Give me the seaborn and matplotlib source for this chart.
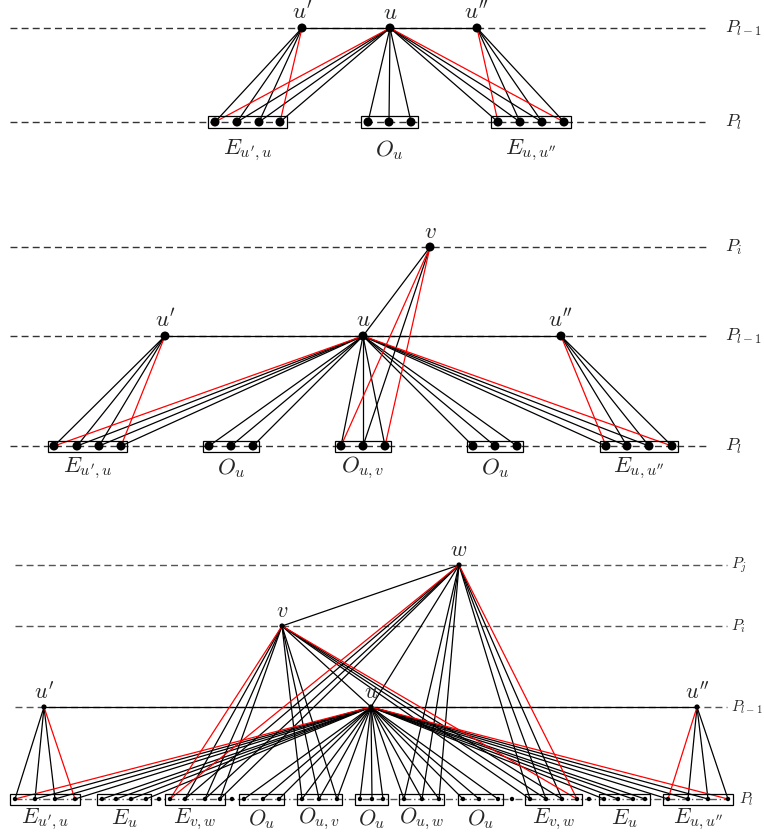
import matplotlib.pyplot as plt
import seaborn as sns
import pandas as pd

# ---- panel 1 ----
p1_levels = {"P_{l-1}": 28, "P_l": 122}
p1_nodes = {"u'": (302, "P_{l-1}"), "u": (390, "P_{l-1}"), "u''": (477, "P_{l-1}")}
p1_groups = ["E_{u',u}", "O_u", "E_{u,u''}"]
p1_dots = [[215, 237, 259, 280], [368, 389, 411], [498, 520, 542, 564]]
p1_edges = [("u'", 0, "kkkr"), ("u", 0, "rkkk"), ("u", 1, "kkk"),
            ("u", 2, "kkkr"), ("u''", 2, "rkkk")]
p1_links = [("u'", "u"), ("u", "u''")]

# ---- panel 2 ----
p2_levels = {"P_i": 247, "P_{l-1}": 336, "P_l": 446}
p2_nodes = {"v": (430, "P_i"), "u'": (165, "P_{l-1}"), "u": (363, "P_{l-1}"),
            "u''": (561, "P_{l-1}")}
p2_groups = ["E_{u',u}", "O_u", "O_{u,v}", "O_u", "E_{u,u''}"]
p2_dots = [[54, 77, 99, 121], [209, 231, 253], [341, 363, 385],
           [473, 495, 517], [606, 627, 649, 672]]
p2_edges = [("u'", 0, "kkkr"), ("u", 0, "rkkk"), ("u", 1, "kkk"),
            ("u", 2, "kkk"), ("v", 2, "rkr"), ("u", 3, "kkk"),
            ("u", 4, "kkkr"), ("u''", 4, "rkkk")]
p2_links = [("u'", "u"), ("u", "u''"), ("v", "u")]

# ---- panel 3 ----
p3_levels = {"P_j": 565, "P_i": 626, "P_{l-1}": 707, "P_l": 799}
p3_nodes = {"w": (459, "P_j"), "v": (282, "P_i"), "u'": (44, "P_{l-1}"),
            "u": (371, "P_{l-1}"), "u''": (697, "P_{l-1}")}
p3_groups = ["E_{u',u}", "E_u", "E_{v,w}", "O_u", "O_{u,v}", "O_u",
             "O_{u,w}", "O_u", "E_{v,w}", "E_u", "E_{u,u''}"]
p3_dots = [[15, 35, 55, 75], [102, 116, 131, 146], [170, 185, 205, 220],
           [244, 263, 279], [302, 319, 337], [360, 372, 383],
           [404, 422, 439], [463, 479, 498], [530, 546, 562, 577],
           [604, 618, 633, 645], [668, 688, 708, 728]]
p3_extra = [159, 232, 512, 589]
p3_edges = [("u'", 0, "kkkr"), ("u", 0, "rkkk"), ("u", 1, "kkkk"),
            ("v", 2, "rkkk"), ("w", 2, "rkkk"), ("u", 3, "kkk"),
            ("u", 4, "kkk"), ("v", 4, "kkk"), ("u", 5, "kkk"),
            ("u", 6, "kkk"), ("w", 6, "kkk"), ("u", 7, "kkk"),
            ("v", 8, "kkkr"), ("w", 8, "kkkr"), ("u", 9, "kkkk"),
            ("u", 10, "kkkr"), ("u''", 10, "rkkk")]
p3_links = [("u'", "u"), ("u", "u''"), ("v", "w"), ("v", "u"), ("w", "u")]

sns.set_theme(style="white")
plt.rcParams['mathtext.fontset'] = 'cm'

fig = plt.figure(figsize=(7.64, 8.34), dpi=100)
ax = fig.add_axes([0, 0, 1, 1])
ax.set_xlim(0, 764)
ax.set_ylim(834, 0)
ax.axis('off')

colors = {"k": "black", "r": "red"}


def draw(levels, nodes, groups, dots, edges, links, extra=(),
         x0=10, x1=705, lab_x=725, bot_x=None, line_col="#333333",
         bottom_ls=(0, (5, 3)), node_s=42, dot_s=42, box_pad=7, box_h=12,
         lab_dy=28, node_dy=16, fs=16.5, pfs=13):
    bottom = max(levels.values())
    # level lines and names
    for name, y in levels.items():
        ls = bottom_ls if y == bottom else (0, (5, 3))
        ax.plot([x0, x1], [y, y], color=line_col, lw=1.0, ls=ls, zorder=1)
        tx = bot_x if (y == bottom and bot_x) else lab_x
        ax.text(tx, y, f"${name}$", fontsize=pfs, ha='left', va='center')
    pos = {n: (x, levels[lv]) for n, (x, lv) in nodes.items()}
    # node-node links
    for a, b in links:
        ax.plot([pos[a][0], pos[b][0]], [pos[a][1], pos[b][1]],
                color='black', lw=0.9, zorder=2)
    # edges to the group members, black first then red on top
    for want in "kr":
        for src, g, cols in edges:
            sx, sy = pos[src]
            for xd, c in zip(dots[g], cols):
                if c == want:
                    ax.plot([sx, xd], [sy, bottom], color=colors[c],
                            lw=0.9, zorder=2 + (c == "r"))
    # boxes and group labels
    for lab, xs in zip(groups, dots):
        ax.add_patch(plt.Rectangle((min(xs) - box_pad, bottom - box_h / 2),
                                   max(xs) - min(xs) + 2 * box_pad, box_h,
                                   fill=False, ec='black', lw=0.9, zorder=4))
        ax.text((min(xs) + max(xs)) / 2, bottom + lab_dy, f"${lab}$",
                fontsize=fs, ha='center', va='center')
    # dots
    df = pd.DataFrame({"x": [x for xs in dots for x in xs] + list(extra)})
    df["y"] = bottom
    sns.scatterplot(data=df, x="x", y="y", s=dot_s, color='black',
                    edgecolor='none', ax=ax, zorder=5, legend=False)
    nd = pd.DataFrame({"x": [p[0] for p in pos.values()],
                       "y": [p[1] for p in pos.values()]})
    sns.scatterplot(data=nd, x="x", y="y", s=node_s, color='black',
                    edgecolor='none', ax=ax, zorder=5, legend=False)
    for n, (x, y) in pos.items():
        ax.text(x, y - node_dy, f"${n}$", fontsize=fs, ha='center',
                va='center')


draw(p1_levels, p1_nodes, p1_groups, p1_dots, p1_edges, p1_links)
draw(p2_levels, p2_nodes, p2_groups, p2_dots, p2_edges, p2_links,
     box_pad=6, box_h=11, lab_dy=22, x1=710)
draw(p3_levels, p3_nodes, p3_groups, p3_dots, p3_edges, p3_links,
     extra=p3_extra, x0=15, x1=727, lab_x=731, bot_x=739,
     line_col="#555555", bottom_ls=(0, (5, 2, 1, 2)), node_s=14, dot_s=10,
     box_pad=5, box_h=11, lab_dy=20, node_dy=15, fs=16, pfs=11)

ax.set_xlabel('')
ax.set_ylabel('')
fig.savefig('out.png', dpi=100)
